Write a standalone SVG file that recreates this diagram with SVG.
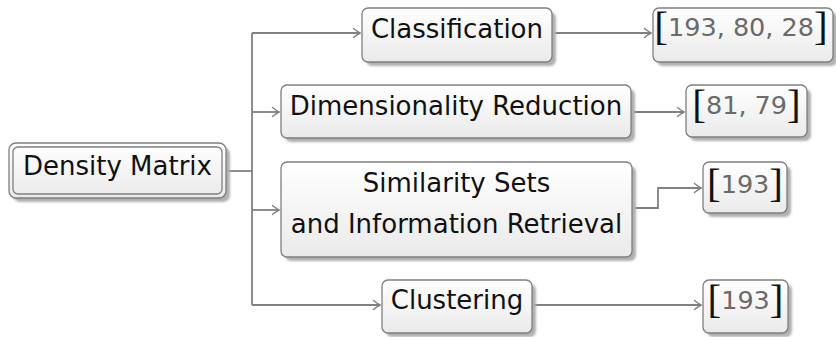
<svg xmlns="http://www.w3.org/2000/svg" width="836" height="337" viewBox="0 0 836 337">
  <defs>
    <linearGradient id="boxFill" x1="0" y1="0" x2="0" y2="1">
      <stop offset="0" stop-color="#ffffff"/>
      <stop offset="1" stop-color="#eaeaea"/>
    </linearGradient>
    <filter id="soft" x="-10%" y="-20%" width="120%" height="140%">
      <feGaussianBlur stdDeviation="1.1"/>
    </filter>
    <marker id="arrow" viewBox="-8 -6 10 12" markerWidth="10" markerHeight="12" refX="0" refY="0" orient="auto" markerUnits="userSpaceOnUse">
      <path d="M-6.5,-4.5 Q-2,-1 0,0 Q-2,1 -6.5,4.5" fill="none" stroke="#808080" stroke-width="1.4" stroke-linecap="round"/>
    </marker>
  </defs>
  <style>
    .shadow { fill: #b0b0b0; filter: url(#soft); }
    .box { fill: url(#boxFill); stroke: #7f7f7f; stroke-width: 1.3; }
    .label { font-family: "DejaVu Sans", sans-serif; font-size: 26px; fill: #111; text-anchor: middle; }
    .cite { font-family: "DejaVu Sans", sans-serif; font-size: 25.5px; fill: #6a6a6a; text-anchor: middle; }
    .br { fill: #111; font-family: "Liberation Serif", serif; font-size: 41px; }
    .wire { fill: none; stroke: #808080; stroke-width: 1.8; }
    .arr { marker-end: url(#arrow); }
  </style>

  <!-- connectors -->
  <g id="connectors">
    <path class="wire" d="M226,171 H252"/>
    <path class="wire" d="M252,33 V305"/>
    <path class="wire arr" d="M252,33 H360"/>
    <path class="wire arr" d="M252,112 H279"/>
    <path class="wire arr" d="M252,210 H279"/>
    <path class="wire arr" d="M252,305 H380"/>
    <path class="wire arr" d="M552,33 H651"/>
    <path class="wire arr" d="M631,112 H684"/>
    <path class="wire arr" d="M632,208 H658 V188 H701"/>
    <path class="wire arr" d="M532,305 H701"/>
  </g>

  <!-- root node with double border -->
  <g id="density-matrix">
    <rect class="shadow" x="13" y="147" width="217" height="55" rx="7"/>
    <rect class="box" x="9" y="143" width="217" height="55" rx="7"/>
    <rect x="13" y="147" width="209" height="47" rx="5" fill="none" stroke="#7f7f7f" stroke-width="1.3"/>
    <text class="label" x="117.5" y="175">Density Matrix</text>
  </g>

  <g id="classification">
    <rect class="shadow" x="366" y="12" width="190" height="54" rx="6"/>
    <rect class="box" x="362" y="8" width="190" height="54" rx="6"/>
    <text class="label" x="457" y="38">Classification</text>
  </g>

  <g id="cite-classification">
    <rect class="shadow" x="657" y="12" width="180" height="54" rx="6"/>
    <rect class="box" x="653" y="8" width="180" height="54" rx="6"/>
    <text class="cite" x="741" y="36"><tspan class="br" dy="4">[</tspan><tspan dy="-4">193, 80, 28</tspan><tspan class="br" dy="4">]</tspan></text>
  </g>

  <g id="dimensionality-reduction">
    <rect class="shadow" x="285" y="89" width="350" height="53" rx="6"/>
    <rect class="box" x="281" y="85" width="350" height="53" rx="6"/>
    <text class="label" x="456" y="115">Dimensionality Reduction</text>
  </g>

  <g id="cite-dimensionality">
    <rect class="shadow" x="690" y="89" width="121" height="52" rx="6"/>
    <rect class="box" x="686" y="85" width="121" height="52" rx="6"/>
    <text class="cite" x="746.5" y="114"><tspan class="br" dy="4">[</tspan><tspan dy="-4">81, 79</tspan><tspan class="br" dy="4">]</tspan></text>
  </g>

  <g id="similarity-sets">
    <rect class="shadow" x="285" y="166" width="351" height="95" rx="6"/>
    <rect class="box" x="281" y="162" width="351" height="95" rx="6"/>
    <text class="label" x="456.5" y="192">Similarity Sets</text>
    <text class="label" x="456.5" y="233">and Information Retrieval</text>
  </g>

  <g id="cite-similarity">
    <rect class="shadow" x="707" y="166" width="84" height="51" rx="6"/>
    <rect class="box" x="703" y="162" width="84" height="51" rx="6"/>
    <text class="cite" x="745" y="193"><tspan class="br" dy="4">[</tspan><tspan dy="-4">193</tspan><tspan class="br" dy="4">]</tspan></text>
  </g>

  <g id="clustering">
    <rect class="shadow" x="386" y="284" width="150" height="53" rx="6"/>
    <rect class="box" x="382" y="280" width="150" height="53" rx="6"/>
    <text class="label" x="457" y="309">Clustering</text>
  </g>

  <g id="cite-clustering">
    <rect class="shadow" x="707" y="284" width="85" height="53" rx="6"/>
    <rect class="box" x="703" y="280" width="85" height="53" rx="6"/>
    <text class="cite" x="745.5" y="309"><tspan class="br" dy="4">[</tspan><tspan dy="-4">193</tspan><tspan class="br" dy="4">]</tspan></text>
  </g>
</svg>
